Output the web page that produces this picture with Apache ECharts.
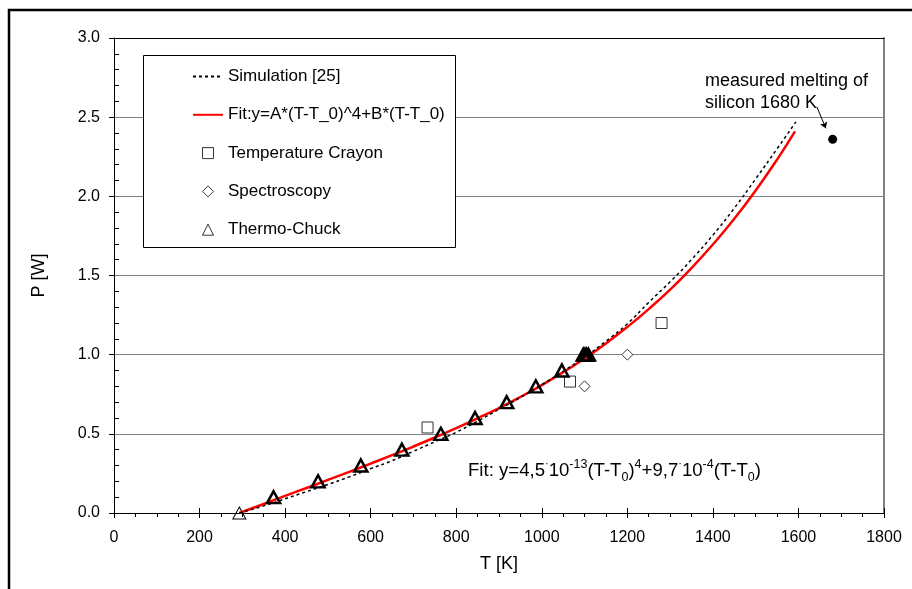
<!DOCTYPE html>
<html>
<head>
<meta charset="utf-8">
<script src="https://cdn.jsdelivr.net/npm/echarts@6/dist/echarts.min.js"></script>
<style>
html,body{margin:0;padding:0;background:#fff;}
#chart{width:912px;height:589px;}
</style>
</head>
<body>
<div id="chart"></div>
<script>
// ---- data ----
const simT = [293, 350, 400, 450, 500, 550, 600, 650, 700, 750, 800, 850, 900, 950, 1000, 1050, 1100, 1150, 1200, 1250, 1300, 1350, 1400, 1450, 1500, 1550, 1594];
const simP = [0, 0.045, 0.09, 0.135, 0.18, 0.228, 0.28, 0.33, 0.39, 0.45, 0.51, 0.58, 0.655, 0.73, 0.81, 0.895, 0.985, 1.085, 1.195, 1.33, 1.46, 1.6, 1.755, 1.925, 2.11, 2.3, 2.47];

const fitT = [293, 350, 400, 450, 500, 550, 600, 650, 700, 750, 800, 850, 900, 950, 1000, 1050, 1100, 1150, 1200, 1250, 1300, 1350, 1400, 1450, 1500, 1550, 1592];
const fitP = [0, 0.057, 0.108, 0.158, 0.209, 0.26, 0.312, 0.365, 0.42, 0.477, 0.536, 0.598, 0.663, 0.733, 0.808, 0.889, 0.976, 1.071, 1.175, 1.288, 1.411, 1.547, 1.696, 1.858, 2.037, 2.232, 2.41];

const crayonT = [733, 1066, 1280];
const crayonP = [0.54, 0.83, 1.2];

const spectroT = [1100, 1200];
const spectroP = [0.8, 1.0];

const chuckT = [293, 373, 477, 577, 673, 764, 844, 918, 986, 1047, 1097, 1101, 1105, 1109];
const chuckP = [0, 0.1, 0.2, 0.3, 0.4, 0.5, 0.6, 0.7, 0.8, 0.9, 1.0, 1.0, 1.0, 1.0];

const meltT = [1680];
const meltP = [2.36];

const arrowFrom = [1643, 2.565];
const arrowTo = [1664, 2.43];

const seriesNames = ['Simulation [25]', 'Fit:y=A*(T-T_0)^4+B*(T-T_0)', 'Temperature Crayon', 'Spectroscopy', 'Thermo-Chuck'];
const xTickLabels = ['0', '200', '400', '600', '800', '1000', '1200', '1400', '1600', '1800'];
const yTickLabels = ['0.0', '0.5', '1.0', '1.5', '2.0', '2.5', '3.0'];
const xName = 'T [K]';
const yName = 'P [W]';
const noteLines = ['measured melting of', 'silicon 1680 K'];

// ---- build chart ----
const zip = (a, b) => a.map((v, i) => [v, b[i]]);
const FONT = '"Liberation Sans", Arial, sans-serif';

const chart = echarts.init(document.getElementById('chart'), null, {renderer: 'canvas'});

const xBase = {type: 'value', min: 0, max: 1800, interval: 200, gridIndex: 0};
const yBase = {type: 'value', min: 0, max: 3, interval: 0.5, gridIndex: 0};

const chuckData = zip(chuckT, chuckP).map((d, i) => i === 0
  ? {value: d, itemStyle: {borderWidth: 1}}
  : {value: d});

const ICON_SQUARE = 'path://M0,0L10,0L10,10L0,10Z';
const ICON_DIAMOND = 'path://M5,0L10,5L5,10L0,5Z';
const ICON_TRIANGLE = 'path://M5,0L10,10L0,10Z';
const thinIcon = {color: '#fff', borderColor: '#000', borderWidth: 0.8, opacity: 1};

const option = {
  animation: false,
  backgroundColor: '#fff',
  textStyle: {fontFamily: FONT},
  grid: {left: 114, right: 28, top: 38, bottom: 76, containLabel: false},
  xAxis: [
    Object.assign({}, xBase, {
      position: 'bottom',
      name: xName, nameLocation: 'middle', nameGap: 42,
      nameTextStyle: {fontSize: 18, color: '#000', fontFamily: FONT},
      axisLine: {show: true, onZero: false, lineStyle: {color: '#000', width: 1}},
      axisTick: {show: true, inside: false, length: 5, lineStyle: {color: '#000'}},
      minorTick: {show: true, splitNumber: 4, length: 4, lineStyle: {color: '#000'}},
      axisLabel: {margin: 17, fontSize: 16, color: '#000', fontFamily: FONT,
        formatter: (v) => xTickLabels[Math.round(v / 200)]},
      splitLine: {show: false}
    }),
    Object.assign({}, xBase, {
      position: 'bottom',
      axisLine: {show: false, onZero: false},
      axisTick: {show: true, inside: true, length: 5, lineStyle: {color: '#000'}},
      axisLabel: {show: false},
      splitLine: {show: false}
    }),
    Object.assign({}, xBase, {
      position: 'top',
      axisLine: {show: true, onZero: false, lineStyle: {color: '#000', width: 1}},
      axisTick: {show: false},
      axisLabel: {show: false},
      splitLine: {show: false}
    })
  ],
  yAxis: [
    Object.assign({}, yBase, {
      position: 'left',
      name: yName, nameLocation: 'middle', nameGap: 66, nameRotate: 90,
      nameTextStyle: {fontSize: 18, color: '#000', fontFamily: FONT},
      axisLine: {show: true, onZero: false, lineStyle: {color: '#000', width: 1}},
      axisTick: {show: true, inside: false, length: 5, lineStyle: {color: '#000'}},
      axisLabel: {margin: 14, fontSize: 16, color: '#000', fontFamily: FONT,
        formatter: (v) => yTickLabels[Math.round(v / 0.5)]},
      splitLine: {show: true, lineStyle: {color: '#808080', width: 1}}
    }),
    Object.assign({}, yBase, {
      position: 'left',
      axisLine: {show: false, onZero: false},
      axisTick: {show: false, inside: true},
      minorTick: {show: true, splitNumber: 5, length: 5, lineStyle: {color: '#000'}},
      axisLabel: {show: false},
      splitLine: {show: false}
    }),
    Object.assign({}, yBase, {
      position: 'right',
      axisLine: {show: true, onZero: false, lineStyle: {color: '#808080', width: 2}},
      axisTick: {show: false},
      axisLabel: {show: false},
      splitLine: {show: false}
    })
  ],
  legend: {
    show: true,
    orient: 'vertical',
    left: 192, top: 68,
    itemWidth: 30, itemHeight: 11,
    itemGap: 21.3,
    padding: 0,
    z: 6,
    symbolKeepAspect: true,
    textStyle: {fontSize: 17, color: '#000', fontFamily: FONT},
    data: [
      {name: seriesNames[0], itemStyle: {opacity: 0}},
      {name: seriesNames[1], itemStyle: {opacity: 0}},
      {name: seriesNames[2], icon: ICON_SQUARE, itemStyle: thinIcon},
      {name: seriesNames[3], icon: ICON_DIAMOND, itemStyle: thinIcon},
      {name: seriesNames[4], icon: ICON_TRIANGLE, itemStyle: thinIcon}
    ]
  },
  graphic: [
    {type: 'rect', z: 1, silent: true,
      shape: {x: 9, y: 10, width: 1200, height: 1200},
      style: {fill: 'none', stroke: '#000', lineWidth: 2.5}},
    {type: 'rect', z: 5, silent: true,
      shape: {x: 143.5, y: 55.5, width: 312, height: 192},
      style: {fill: '#fff', stroke: '#000', lineWidth: 1}},
    {type: 'text', z: 5, left: 705, top: 70, silent: true,
      style: {text: noteLines.join('\n'), font: '18px ' + FONT, fill: '#000', lineHeight: 22}},
    {type: 'text', z: 5, left: 468, top: 458, silent: true,
      style: {
        text: '{n|Fit: y=4,5}{d|·}{n|10}{s|-13}{n|(T-T}{b|0}{n|)}{s|4}{n|+9,7}{d|·}{n|10}{s|-4}{n|(T-T}{b|0}{n|)}',
        fill: '#000',
        rich: {
          n: {fontSize: 18.6, fontFamily: FONT, lineHeight: 26, verticalAlign: 'middle'},
          d: {fontSize: 11, fontFamily: FONT, lineHeight: 26, verticalAlign: 'top'},
          s: {fontSize: 12.5, fontFamily: FONT, lineHeight: 26, verticalAlign: 'top'},
          b: {fontSize: 12.5, fontFamily: FONT, lineHeight: 26, verticalAlign: 'bottom'}
        }
      }}
  ],
  series: [
    {
      name: seriesNames[0], type: 'line', xAxisIndex: 0, yAxisIndex: 0,
      data: zip(simT, simP), smooth: true, symbol: 'none', z: 3,
      lineStyle: {color: '#000', width: 1.5, type: [3, 3]},
      itemStyle: {color: '#000'}
    },
    {
      name: seriesNames[1], type: 'line', xAxisIndex: 0, yAxisIndex: 0,
      data: zip(fitT, fitP), smooth: true, symbol: 'none', z: 2,
      lineStyle: {color: '#ff0000', width: 2.5},
      itemStyle: {color: '#ff0000'}
    },
    {
      name: seriesNames[2], type: 'scatter', xAxisIndex: 0, yAxisIndex: 0,
      data: zip(crayonT, crayonP), symbol: 'rect', symbolSize: 11, z: 4,
      itemStyle: {color: '#fff', borderColor: '#333', borderWidth: 1, opacity: 1}
    },
    {
      name: seriesNames[3], type: 'scatter', xAxisIndex: 0, yAxisIndex: 0,
      data: zip(spectroT, spectroP), symbol: 'diamond', symbolSize: 11, z: 4,
      itemStyle: {color: '#fff', borderColor: '#333', borderWidth: 1, opacity: 1}
    },
    {
      name: seriesNames[4], type: 'scatter', xAxisIndex: 0, yAxisIndex: 0,
      data: chuckData, symbol: 'triangle', symbolSize: [13, 12], z: 4,
      itemStyle: {color: 'rgba(255,255,255,0)', borderColor: '#000', borderWidth: 2.5, opacity: 1}
    },
    {
      name: 'melting', type: 'scatter', xAxisIndex: 0, yAxisIndex: 0,
      data: zip(meltT, meltP), symbol: 'circle', symbolSize: 9, z: 4,
      itemStyle: {color: '#000', opacity: 1},
      markLine: {
        silent: true, animation: false,
        symbol: ['none', 'arrow'], symbolSize: 6,
        label: {show: false},
        lineStyle: {color: '#000', width: 1, type: 'solid'},
        data: [[{coord: arrowFrom}, {coord: arrowTo}]]
      }
    }
  ]
};

chart.setOption(option);
</script>
</body>
</html>
